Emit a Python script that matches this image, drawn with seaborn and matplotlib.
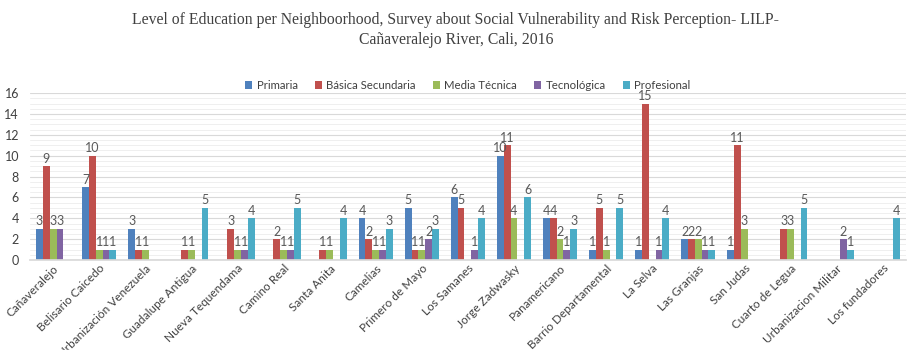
import matplotlib
matplotlib.use("Agg")
import matplotlib.pyplot as plt
import seaborn as sns
import pandas as pd
import numpy as np
from matplotlib.ticker import MultipleLocator

neighborhoods = ["Cañaveralejo", "Belisario Caicedo", "Urbanización Venezuela", "Guadalupe Antigua",
                 "Nueva Tequendama", "Camino Real", "Santa Anita", "Camelias", "Primero de Mayo",
                 "Los Samanes", "Jorge Zadwasky", "Panamericano", "Barrio Departamental", "La Selva",
                 "Las Granjas", "San Judas", "Cuarto de Legua", "Urbanizacion Militar", "Los fundadores"]
levels = ["Primaria", "Básica Secundaria", "Media Técnica", "Tecnológica", "Profesional"]
primaria =    [3, 7, 3, 0, 0, 0, 0, 4, 5, 6, 10, 4, 1, 1, 2, 1, 0, 0, 0]
secundaria =  [9, 10, 1, 1, 3, 2, 1, 2, 1, 5, 11, 4, 5, 15, 2, 11, 3, 0, 0]
media =       [3, 1, 1, 1, 1, 1, 1, 1, 1, 0, 4, 2, 1, 0, 2, 3, 3, 0, 0]
tecnologica = [3, 1, 0, 0, 1, 1, 0, 1, 2, 1, 0, 1, 0, 1, 1, 0, 0, 2, 0]
profesional = [0, 1, 0, 5, 4, 5, 4, 3, 3, 4, 6, 3, 5, 4, 1, 0, 5, 1, 4]
colors = ["#4F81BD", "#C0504D", "#9BBB59", "#8064A2", "#4BACC6"]

series = [primaria, secundaria, media, tecnologica, profesional]
rows = []
for lvl, vals in zip(levels, series):
    for nb, v in zip(neighborhoods, vals):
        rows.append({"Neighborhood": nb, "Level": lvl, "Count": v})
df = pd.DataFrame(rows)

sns.set_theme(style="white")
plt.rcParams['font.family'] = ['Lato', 'DejaVu Sans']

fig = plt.figure(figsize=(9.12, 3.5), dpi=100)
ax = fig.add_axes([0.033, 0.257, 0.96, 0.477])
sns.barplot(data=df, x="Neighborhood", y="Count", hue="Level", hue_order=levels,
            order=neighborhoods, palette=colors, width=0.74, gap=0, ax=ax,
            saturation=1, errorbar=None, legend=True, linewidth=0, edgecolor="none")

for cont in ax.containers:
    labels = [f"{int(v)}" if v > 0 else "" for v in cont.datavalues]
    ax.bar_label(cont, labels=labels, fontsize=9, color="#595959", padding=1)

ax.set_ylim(0, 16)
ax.set_xlim(-0.5, len(neighborhoods) - 0.5)
ax.yaxis.set_major_locator(MultipleLocator(2))
ax.yaxis.set_minor_locator(MultipleLocator(0.5))
ax.grid(axis="y", which="major", color="#D9D9D9", linewidth=0.8)
ax.grid(axis="y", which="minor", color="#ECECEC", linewidth=0.6)
ax.set_axisbelow(True)
for s in ["top", "right", "left"]:
    ax.spines[s].set_visible(False)
ax.spines["bottom"].set_color("#D9D9D9")
ax.set_xlabel("")
ax.set_ylabel("")
ax.tick_params(axis="y", labelsize=9, colors="#404040", length=0, pad=8)
ax.tick_params(axis="x", labelsize=8.5, colors="#404040", length=0, pad=2)
plt.setp(ax.get_xticklabels(), rotation=45, ha="right", rotation_mode="anchor")

ax.legend(loc="upper center", bbox_to_anchor=(0.5, 1.14), ncol=5, frameon=False,
          fontsize=8.2, handlelength=0.6, handleheight=0.6, handletextpad=0.4,
          columnspacing=1.5, labelcolor="#404040")

fig.text(0.5, 0.965, "Level of Education per Neighboorhood, Survey about Social Vulnerability and Risk Perception- LILP-\nCañaveralejo River, Cali, 2016",
         ha="center", va="top", fontsize=11.3, family="Liberation Serif", color="#404040",
         linespacing=1.35)

fig.savefig("out.png", dpi=100, facecolor="white")
